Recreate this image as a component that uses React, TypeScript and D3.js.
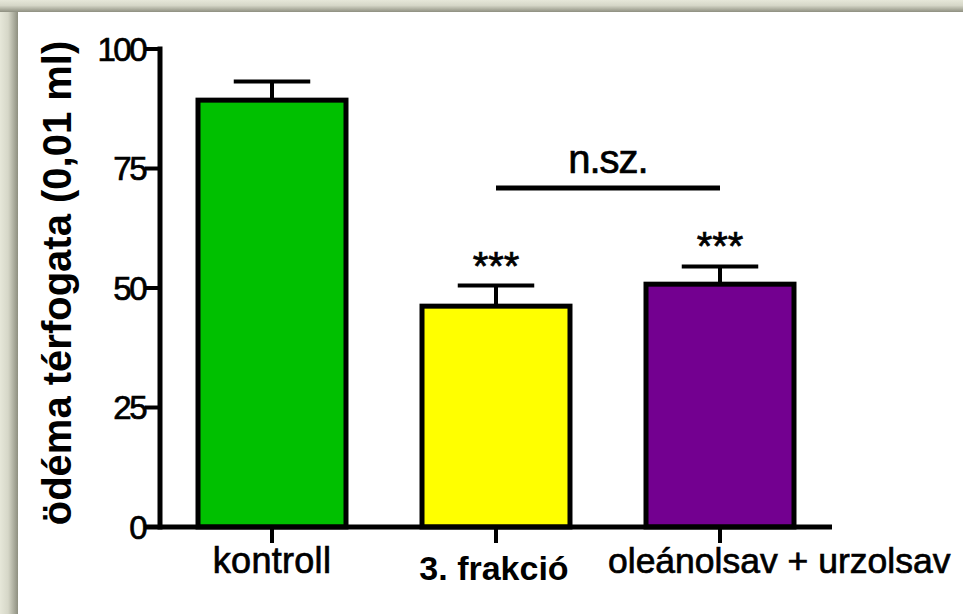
import React from 'react';
import * as d3 from 'd3';

const W = 963;
const H = 614;

// groups and their means / upper SEM (volumes in 0.01 ml)
const groups = ['kontroll', '3. frakció', 'oleánolsav + urzolsav'];
const means = [89.3, 46.2, 50.8];
const errTops = [93.2, 50.5, 54.5];
const barColors = ['#00c000', '#ffff00', '#730090'];
const stars = ['', '***', '***'];
const yTicks = [0, 25, 50, 75, 100];
const nsLabel = 'n.sz.';
const yTitle = 'ödéma térfogata (0,01 ml)';

const margin = {left: 160, right: 131, top: 49, bottom: 87};
const font = '"Liberation Sans", Arial, sans-serif';
// prism text renders a bit heavier than plain regular
const heavy = {stroke: '#000', strokeWidth: 0.7};

const App = () => {
  const x = d3.scaleBand<string>()
    .domain(groups)
    .range([margin.left, W - margin.right])
    .paddingInner(0.317)
    .paddingOuter(0.1585);

  const y = d3.scaleLinear()
    .domain([0, 100])
    .range([H - margin.bottom, margin.top]);

  const bw = x.bandwidth();
  const cx = (g: string) => (x(g) as number) + bw / 2;
  const y0 = y(0);

  return (
    <svg width={W} height={H} style={{position: 'fixed', left: 0, top: 0, display: 'block'}}>
      <defs>
        <linearGradient id="topShade" x1="0" y1="0" x2="0" y2="1">
          <stop offset="0" stopColor="#e6e7d9" />
          <stop offset="0.45" stopColor="#d6d7c8" />
          <stop offset="1" stopColor="#8e8f80" />
        </linearGradient>
        <linearGradient id="leftShade" x1="0" y1="0" x2="1" y2="0">
          <stop offset="0" stopColor="#e6e7d9" />
          <stop offset="0.45" stopColor="#d6d7c8" />
          <stop offset="1" stopColor="#8e8f80" />
        </linearGradient>
      </defs>
      <rect x={0} y={0} width={W} height={H} fill="#e6e7d9" />
      <rect x={0} y={0} width={W} height={12} fill="url(#topShade)" />
      <rect x={0} y={12} width={18} height={H - 12} fill="url(#leftShade)" />
      <rect x={18} y={12} width={W - 18} height={H - 12} fill="#ffffff" />

      {/* bars */}
      {groups.map((g, i) => (
        <rect key={g}
          x={(x(g) as number) + 2.5}
          y={y(means[i])}
          width={bw - 5}
          height={y0 - y(means[i])}
          fill={barColors[i]}
          stroke="#000"
          strokeWidth={5} />
      ))}

      {/* error bars */}
      {groups.map((g, i) => (
        <g key={g + '-err'} stroke="#000" strokeWidth={4}>
          <line x1={cx(g)} x2={cx(g)} y1={y(means[i]) - 2} y2={y(errTops[i])} />
          <line x1={cx(g) - bw / 4} x2={cx(g) + bw / 4} y1={y(errTops[i])} y2={y(errTops[i])} />
        </g>
      ))}

      {/* significance stars */}
      {groups.map((g, i) => stars[i] && (
        <text key={g + '-star'} x={cx(g)} y={y(errTops[i]) - 6}
          textAnchor="middle" fontFamily={font} fontSize={40} fill="#000" {...heavy}>
          {stars[i]}
        </text>
      ))}

      {/* n.sz. bracket */}
      <line x1={cx(groups[1])} x2={cx(groups[2])} y1={188} y2={188} stroke="#000" strokeWidth={5} />
      <text x={(cx(groups[1]) + cx(groups[2])) / 2} y={173} textAnchor="middle"
        fontFamily={font} fontSize={40} letterSpacing={-1} fill="#000" {...heavy}>{nsLabel}</text>

      {/* y axis */}
      <line x1={margin.left} x2={margin.left} y1={y(100) - 2.5} y2={y0 + 2.5} stroke="#000" strokeWidth={5} />
      {yTicks.map(t => (
        <g key={t}>
          <line x1={145} x2={margin.left} y1={y(t)} y2={y(t)} stroke="#000" strokeWidth={4} />
          <text x={145} y={y(t)} dy="0.36em" textAnchor="end" fontFamily={font}
            fontSize={33} letterSpacing={-2.5} fill="#000" {...heavy}>{t}</text>
        </g>
      ))}

      {/* x axis */}
      <line x1={145} x2={W - margin.right} y1={y0} y2={y0} stroke="#000" strokeWidth={5} />
      {groups.map(g => (
        <line key={g + '-tick'} x1={cx(g)} x2={cx(g)} y1={y0} y2={y0 + 16} stroke="#000" strokeWidth={4} />
      ))}
      <text x={cx(groups[0])} y={573} textAnchor="middle" fontFamily={font} fontSize={36} letterSpacing={0.3} fill="#000" {...heavy}>{groups[0]}</text>
      <text x={cx(groups[1]) - 2} y={580} textAnchor="middle" fontFamily={font} fontSize={34} fontWeight="bold" fill="#000">{groups[1]}</text>
      <text x={608} y={573} textAnchor="start" fontFamily={font} fontSize={35.5} fill="#000" {...heavy}>{groups[2]}</text>

      {/* y title */}
      <text transform={`translate(71, 283) rotate(-90)`} textAnchor="middle" fontFamily={font}
        fontSize={40} fontWeight="bold" fill="#000">{yTitle}</text>
    </svg>
  );
};

export default App;
